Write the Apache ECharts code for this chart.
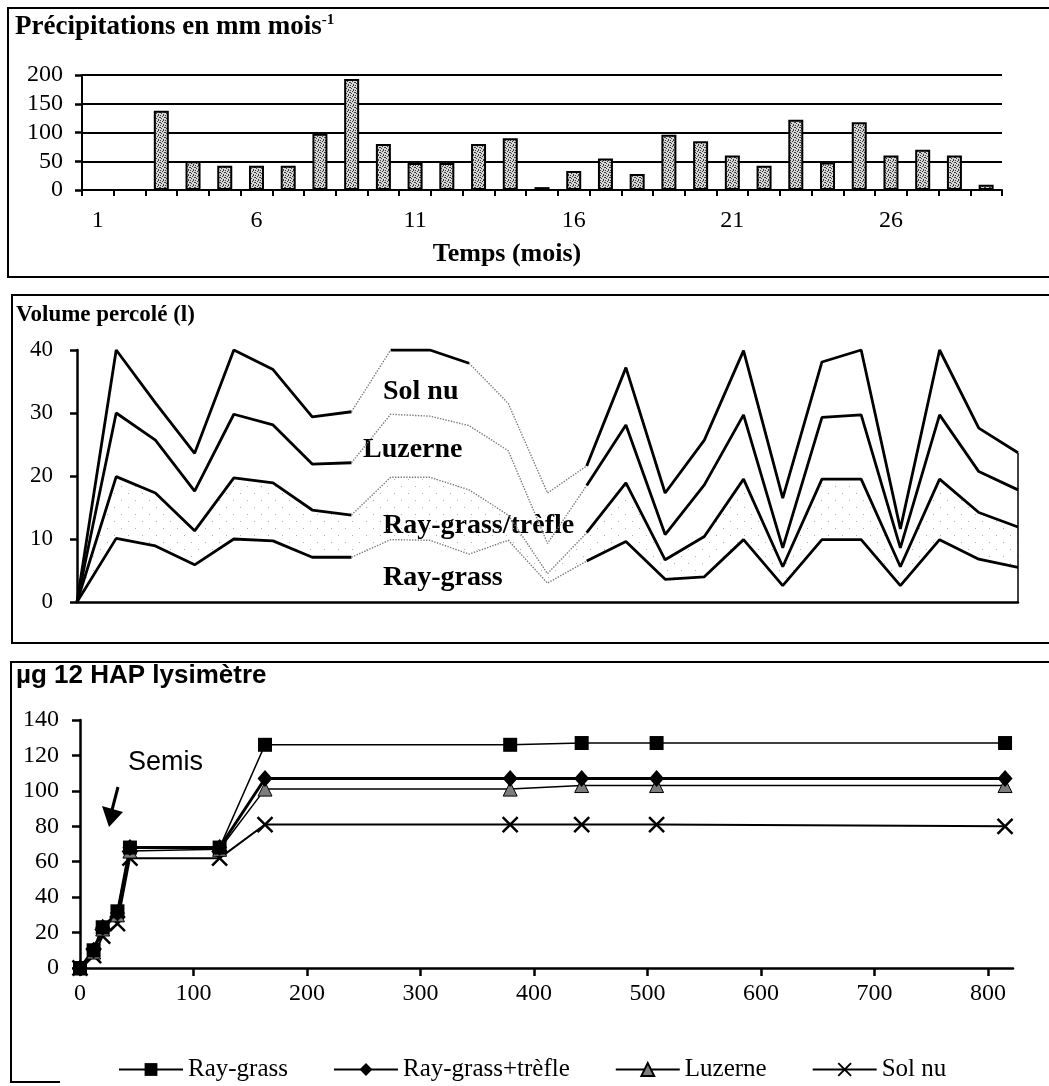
<!DOCTYPE html>
<html>
<head>
<meta charset="utf-8">
<script src="https://cdn.jsdelivr.net/npm/echarts@6/dist/echarts.min.js"></script>
<style>
html, body { margin: 0; padding: 0; background: #fff; }
#main { width: 1049px; height: 1086px; }
</style>
</head>
<body>
<div id="main"></div>
<script>
// --- Précipitations (mm / mois) ---
const months = ['1','2','3','4','5','6','7','8','9','10','11','12','13','14','15',
                '16','17','18','19','20','21','22','23','24','25','26','27','28','29'];
const precip = [null, null, 138, 50, 42, 42, 42, 98, 193, 80, 47, 47, 80, 90, 5,
                33, 55, 28, 96, 85, 60, 42, 122, 48, 118, 60, 70, 60, 9];

// --- Volume percolé (l), niveaux cumulés ---
const steps = ['1','2','3','4','5','6','7','8','9','10','11','12','13',
               '14','15','16','17','18','19','20','21','22','23','24','25'];
const volSolNu    = [0, 40, 31.6, 23.6, 40, 36.9, 29.4, 30.2, 40, 40, 37.9, 31.5, 17.3,
                     21.6, 37.2, 17.3, 25.7, 39.9, 16.5, 38.1, 40, 11.6, 40, 27.6, 23.7];
const volLuzerne  = [0, 30, 25.7, 17.6, 29.8, 28.1, 21.9, 22.1, 29.8, 29.5, 28, 24, 9.3,
                     18.5, 28.1, 10.7, 18.6, 29.7, 8.6, 29.3, 29.7, 8.6, 29.7, 20.7, 17.8];
const volRgTrefle = [0, 19.9, 17.3, 11.3, 19.7, 18.9, 14.6, 13.8, 19.8, 19.8, 17.8, 13.8, 4.5,
                     11, 18.9, 6.7, 10.4, 19.5, 5.6, 19.5, 19.5, 5.6, 19.5, 14.2, 11.9];
const volRayGrass = [0, 10.1, 8.9, 5.9, 10, 9.7, 7.1, 7.1, 9.9, 9.8, 7.6, 9.8, 3.0,
                     6.5, 9.6, 3.6, 4.0, 9.9, 2.6, 9.9, 9.9, 2.6, 9.9, 6.8, 5.5];

// --- µg 12 HAP par lysimètre (cumul) ---
const days        = [0, 12, 20, 33, 44, 123, 163, 379, 442, 508, 815];
const hapRayGrass = [0, 10, 23, 32, 68, 68, 126, 126, 127, 127, 127];
const hapRgTrefle = [0, 10, 23, 31, 68, 68, 107, 107, 107, 107, 107];
const hapLuzerne  = [0, 9, 22, 30, 66, 67, 101, 101, 103, 103, 103];
const hapSolNu    = [0, 7, 18, 25, 62, 62, 81, 81, 81, 81, 80];

const serif = "'Liberation Serif', 'Times New Roman', serif";
const sans = "'Liberation Sans', Arial, sans-serif";

// petites textures pointillées (barres, bande ray-grass/trèfle)
function makePattern(size, bg, dots, dotColor) {
    const c = document.createElement('canvas');
    c.width = c.height = size;
    const g = c.getContext('2d');
    if (bg) { g.fillStyle = bg; g.fillRect(0, 0, size, size); }
    g.fillStyle = dotColor;
    dots.forEach(([x, y]) => g.fillRect(x, y, 1, 1));
    return c;
}
const barPattern = makePattern(5, '#d6d6d6', [[0,0],[3,0],[2,1],[4,2],[1,3],[3,4],[0,2]], '#3a3a3a');
const bandPattern = makePattern(14, null, [[2,3],[9,10]], '#b0b0b0');

// garde une portion [a, b] de la série, le reste à null
function run(values, a, b) {
    return values.map((v, i) => (i >= a && i <= b ? v : null));
}

const volLines = [
    { data: volSolNu,    solid: [[0, 7], [8, 10], [13, 24]], dotted: [[7, 8], [10, 13]] },
    { data: volLuzerne,  solid: [[0, 7], [13, 24]],          dotted: [[7, 13]] },
    { data: volRgTrefle, solid: [[0, 7], [13, 24]],          dotted: [[7, 13]] },
    { data: volRayGrass, solid: [[0, 7], [13, 24]],          dotted: [[7, 13]] }
];

const volSeries = [];
// bande entre ray-grass et ray-grass/trèfle
volSeries.push({
    type: 'line', xAxisIndex: 1, yAxisIndex: 1, stack: 'band', symbol: 'none',
    data: volRayGrass, lineStyle: { width: 0 }, silent: true
});
volSeries.push({
    type: 'line', xAxisIndex: 1, yAxisIndex: 1, stack: 'band', symbol: 'none',
    data: volRgTrefle.map((v, i) => +(v - volRayGrass[i]).toFixed(2)),
    lineStyle: { width: 0 }, areaStyle: { color: { image: bandPattern, repeat: 'repeat' }, opacity: 1 },
    silent: true
});
volLines.forEach((ln, li) => {
    ln.solid.forEach(([a, b]) => {
        const s = {
            type: 'line', xAxisIndex: 1, yAxisIndex: 1, symbol: 'none', silent: true,
            data: run(ln.data, a, b),
            lineStyle: { color: '#000', width: 2.8 }
        };
        if (li === 0 && b === ln.data.length - 1) {
            s.markLine = {
                symbol: 'none', silent: true, label: { show: false },
                lineStyle: { color: '#000', width: 1.5, type: 'solid' },
                data: [[{ coord: [steps[b], 0] }, { coord: [steps[b], ln.data[b]] }]]
            };
        }
        volSeries.push(s);
    });
    ln.dotted.forEach(([a, b]) => {
        volSeries.push({
            type: 'line', xAxisIndex: 1, yAxisIndex: 1, symbol: 'none', silent: true,
            data: run(ln.data, a, b),
            lineStyle: { color: '#7a7a7a', width: 1.4, type: 'dotted' }
        });
    });
});

function pairs(ys) { return days.map((d, i) => [d, ys[i]]); }

const tickStyle = { color: '#000', width: 2.5 };

const chart = echarts.init(document.getElementById('main'));
chart.setOption({
    animation: false,
    backgroundColor: '#fff',
    textStyle: { fontFamily: serif, color: '#000' },
    grid: [
        { left: 82, top: 75, width: 920, height: 115 },
        { left: 77, top: 350, width: 941, height: 252 },
        { left: 80, top: 720, width: 933, height: 248 }
    ],
    xAxis: [
        {
            gridIndex: 0, type: 'category', data: months, boundaryGap: true,
            axisLine: { show: true, lineStyle: { color: '#000', width: 2 } },
            axisTick: { show: true, interval: 0, length: 6, lineStyle: { color: '#000', width: 2 } },
            axisLabel: { interval: 4, margin: 19, fontSize: 24, fontFamily: serif, color: '#000' }
        },
        {
            gridIndex: 1, type: 'category', data: steps, boundaryGap: false,
            axisLine: { show: true, lineStyle: { color: '#000', width: 2.5 } },
            axisTick: { show: false }, axisLabel: { show: false }
        },
        {
            gridIndex: 2, type: 'value', min: 0, max: 822, interval: 100,
            axisLine: { show: true, onZero: false, lineStyle: { color: '#000', width: 2.5 } },
            axisTick: { show: true, length: 8, lineStyle: tickStyle },
            axisLabel: { showMaxLabel: false, margin: 14, fontSize: 24, fontFamily: serif, color: '#000' },
            splitLine: { show: false }
        }
    ],
    yAxis: [
        {
            gridIndex: 0, type: 'value', min: 0, max: 200, interval: 50,
            axisLine: { show: true, lineStyle: { color: '#000', width: 2 } },
            axisTick: { show: true, length: 7, lineStyle: tickStyle },
            axisLabel: { margin: 19, fontSize: 24, fontFamily: serif, color: '#000' },
            splitLine: { lineStyle: { color: '#000', width: 2 } }
        },
        {
            gridIndex: 1, type: 'value', min: 0, max: 40, interval: 10,
            axisLine: { show: true, lineStyle: { color: '#000', width: 2.5 } },
            axisTick: { show: true, length: 7, lineStyle: tickStyle },
            axisLabel: { margin: 24, fontSize: 23, fontFamily: serif, color: '#000' },
            splitLine: { show: false }
        },
        {
            gridIndex: 2, type: 'value', min: 0, max: 140, interval: 20,
            axisLine: { show: true, lineStyle: { color: '#000', width: 2.5 } },
            axisTick: { show: true, length: 8, lineStyle: tickStyle },
            axisLabel: { margin: 21, fontSize: 24, fontFamily: serif, color: '#000' },
            splitLine: { show: false }
        }
    ],
    legend: {
        data: ['Ray-grass', 'Ray-grass+trèfle', 'Luzerne', 'Sol nu'],
        left: 113, top: 1052, itemWidth: 64, itemHeight: 16, itemGap: 45,
        textStyle: { fontFamily: serif, fontSize: 25, color: '#000' }
    },
    series: [
        {
            type: 'bar', xAxisIndex: 0, yAxisIndex: 0, data: precip, barWidth: 15,
            itemStyle: { color: { image: barPattern, repeat: 'repeat' }, borderColor: '#000', borderWidth: 2 },
            silent: true
        },
        ...volSeries,
        {
            name: 'Sol nu', type: 'line', xAxisIndex: 2, yAxisIndex: 2, data: pairs(hapSolNu),
            symbol: 'path://M2,2L18,18M18,2L2,18', symbolSize: 15,
            itemStyle: { color: 'rgba(0,0,0,0)', borderColor: '#000', borderWidth: 2.5 },
            lineStyle: { color: '#000', width: 2 }
        },
        {
            name: 'Luzerne', type: 'line', xAxisIndex: 2, yAxisIndex: 2, data: pairs(hapLuzerne),
            symbol: 'triangle', symbolSize: 14,
            itemStyle: { color: '#7d7d7d', borderColor: '#000', borderWidth: 1 },
            lineStyle: { color: '#000', width: 1.5 }
        },
        {
            name: 'Ray-grass+trèfle', type: 'line', xAxisIndex: 2, yAxisIndex: 2, data: pairs(hapRgTrefle),
            symbol: 'diamond', symbolSize: [15, 17],
            itemStyle: { color: '#000' },
            lineStyle: { color: '#000', width: 3 }
        },
        {
            name: 'Ray-grass', type: 'line', xAxisIndex: 2, yAxisIndex: 2, data: pairs(hapRayGrass),
            symbol: 'rect', symbolSize: 14,
            itemStyle: { color: '#000' },
            lineStyle: { color: '#000', width: 1.6 }
        }
    ],
    graphic: [
        { type: 'rect', z: -1, shape: { x: 8, y: 8, width: 1060, height: 269 },
          style: { fill: 'none', stroke: '#000', lineWidth: 2 } },
        { type: 'rect', z: -1, shape: { x: 12, y: 295, width: 1060, height: 348 },
          style: { fill: 'none', stroke: '#000', lineWidth: 2 } },
        { type: 'polyline', z: -1, shape: { points: [[1060, 662], [11, 662], [11, 1082], [60, 1082]] },
          style: { fill: 'none', stroke: '#000', lineWidth: 2 } },
        { type: 'text', x: 15, y: 13,
          style: { text: '{a|Précipitations en mm mois}{b|-1}', verticalAlign: 'top',
                   rich: { a: { fontFamily: serif, fontWeight: 'bold', fontSize: 27, lineHeight: 28, color: '#000' },
                           b: { fontFamily: serif, fontWeight: 'bold', fontSize: 15, verticalAlign: 'top', lineHeight: 28, color: '#000' } } } },
        { type: 'text', x: 507, y: 254,
          style: { text: 'Temps (mois)', font: 'bold 26px ' + serif, fill: '#000', align: 'center', verticalAlign: 'middle' } },
        { type: 'text', x: 16, y: 315,
          style: { text: 'Volume percolé (l)', font: 'bold 23px ' + serif, fill: '#000', verticalAlign: 'middle' } },
        { type: 'text', x: 383, y: 392,
          style: { text: 'Sol nu', font: 'bold 28px ' + serif, fill: '#000', verticalAlign: 'middle' } },
        { type: 'text', x: 363, y: 450,
          style: { text: 'Luzerne', font: 'bold 28px ' + serif, fill: '#000', verticalAlign: 'middle' } },
        { type: 'text', x: 383, y: 526,
          style: { text: 'Ray-grass/trèfle', font: 'bold 28px ' + serif, fill: '#000', verticalAlign: 'middle' } },
        { type: 'text', x: 383, y: 578,
          style: { text: 'Ray-grass', font: 'bold 28px ' + serif, fill: '#000', verticalAlign: 'middle' } },
        { type: 'text', x: 16, y: 676,
          style: { text: 'µg 12 HAP lysimètre', font: 'bold 26px ' + sans, fill: '#000', verticalAlign: 'middle' } },
        { type: 'text', x: 128, y: 763,
          style: { text: 'Semis', font: '27px ' + sans, fill: '#000', verticalAlign: 'middle' } },
        { type: 'line', shape: { x1: 118, y1: 787, x2: 112, y2: 810 },
          style: { stroke: '#000', lineWidth: 3 } },
        { type: 'polygon', shape: { points: [[102, 806], [123, 812], [109, 827]] },
          style: { fill: '#000' } }
    ]
});
</script>
</body>
</html>
